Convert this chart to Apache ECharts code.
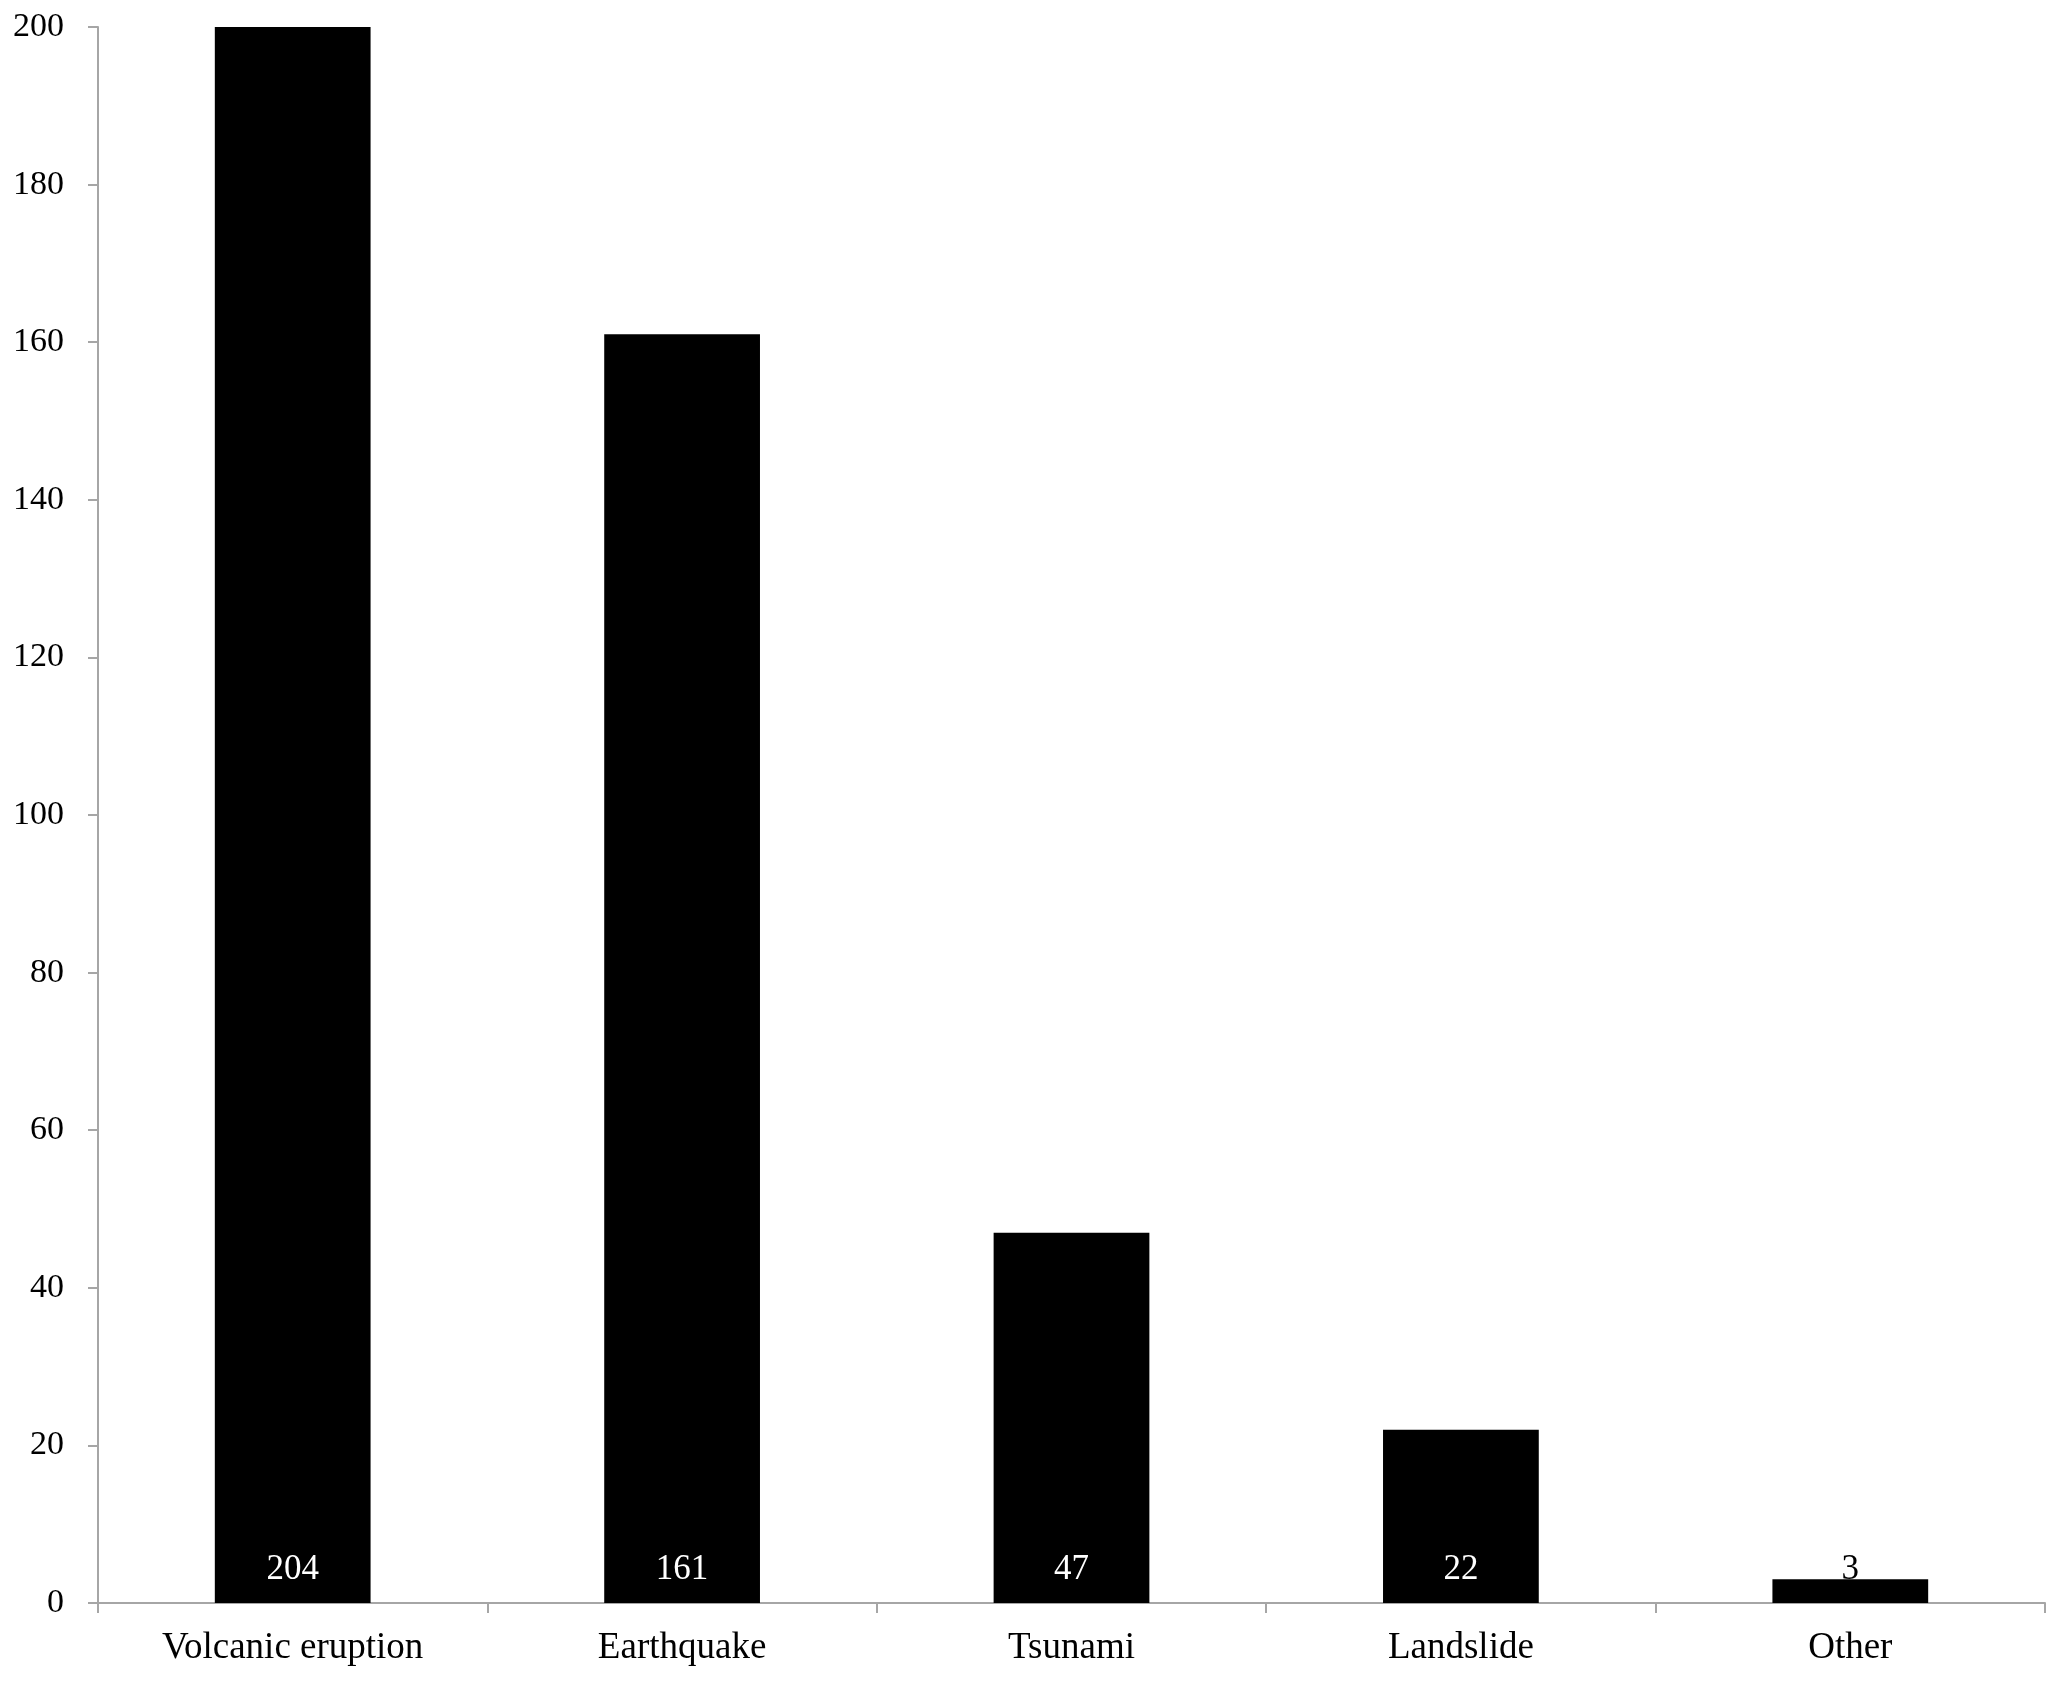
<!DOCTYPE html>
<html>
<head>
<meta charset="utf-8">
<script src="https://cdn.jsdelivr.net/npm/echarts@6/dist/echarts.min.js"></script>
<style>
html, body { margin: 0; padding: 0; background: #fff; }
#chart { width: 2067px; height: 1681px; }
</style>
</head>
<body>
<div id="chart"></div>
<script>
var categories = ['Volcanic eruption', 'Earthquake', 'Tsunami', 'Landslide', 'Other'];
var counts = [204, 161, 47, 22, 3];
var yTicks = [0, 20, 40, 60, 80, 100, 120, 140, 160, 180, 200];

var font = '"Liberation Serif", "Times New Roman", serif';
var axisGray = '#a6a6a6';

// the last bar is too short for a white label, so its label is black
var barData = counts.map(function(v, i) {
	return {
		value: v,
		label: { color: v < 10 ? '#000' : '#fff' }
	};
});

var option = {
	animation: false,
	backgroundColor: '#fff',
	grid: {
		left: 98,
		right: 22,
		top: 27,
		bottom: 78
	},
	xAxis: {
		type: 'category',
		data: categories,
		axisLine: { lineStyle: { color: axisGray, width: 2 } },
		axisTick: { show: true, length: 10, lineStyle: { color: axisGray, width: 2 } },
		axisLabel: { color: '#000', fontFamily: font, fontSize: 37, margin: 27 }
	},
	yAxis: {
		type: 'value',
		min: yTicks[0],
		max: yTicks[yTicks.length - 1],
		interval: 20,
		splitLine: { show: false },
		axisLine: { show: true, lineStyle: { color: axisGray, width: 2 } },
		axisTick: { show: true, length: 10, lineStyle: { color: axisGray, width: 2 } },
		axisLabel: { color: '#000', fontFamily: font, fontSize: 34, margin: 34 }
	},
	series: [{
		type: 'bar',
		data: barData,
		barWidth: '40%',
		clip: true,
		itemStyle: { color: '#000' },
		label: {
			show: true,
			position: 'insideBottom',
			distance: 16,
			fontFamily: font,
			fontSize: 35
		}
	}]
};

var myChart = echarts.init(document.getElementById('chart'));
myChart.setOption(option);
</script>
</body>
</html>
